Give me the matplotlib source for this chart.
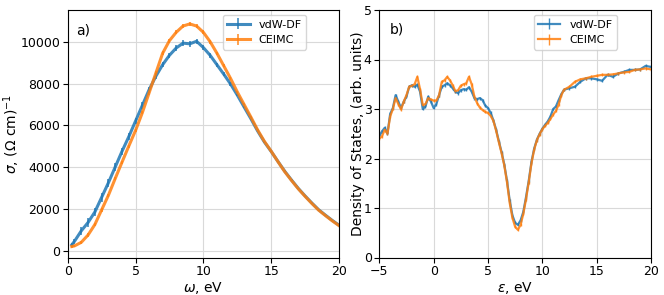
import matplotlib
matplotlib.use("Agg")
import matplotlib.pyplot as plt
import numpy as np

# ---- panel a) optical conductivity ----
omega = [0.3, 0.5, 1.0, 1.5, 2.0, 2.5, 3.0, 3.5, 4.0, 4.5, 5.0, 5.5, 6.0, 6.5, 7.0,
         7.5, 8.0, 8.5, 9.0, 9.5, 10.0, 10.5, 11.0, 11.5, 12.0, 12.5, 13.0, 13.5,
         14.0, 14.5, 15.0, 15.5, 16.0, 16.5, 17.0, 17.5, 18.0, 18.5, 19.0, 19.5, 20.0]
sigma_vdw = [280, 450, 950, 1350, 1850, 2550, 3250, 4000, 4750, 5450, 6200, 6950, 7700,
             8350, 8900, 9350, 9700, 9930, 9900, 10020, 9720, 9350, 8900, 8450, 7980,
             7450, 6880, 6320, 5730, 5200, 4750, 4270, 3800, 3380, 2980, 2620, 2280,
             1960, 1700, 1450, 1220]
sigma_vdw_err = [80, 120, 180, 200, 200, 200, 200, 200, 180, 170, 160, 150, 140, 130, 130,
                 130, 130, 130, 130, 130, 120, 110, 100, 90, 80, 70, 60, 60, 50, 50, 50,
                 40, 40, 40, 30, 30, 30, 30, 30, 30, 30]
sigma_ceimc = [200, 230, 400, 750, 1250, 1950, 2650, 3450, 4230, 5000, 5750, 6600, 7550,
               8500, 9450, 10050, 10450, 10750, 10850, 10750, 10450, 10000, 9450, 8850,
               8250, 7600, 7000, 6400, 5780, 5230, 4760, 4260, 3780, 3360, 2960, 2600,
               2260, 1940, 1680, 1430, 1200]
sigma_ceimc_err = [60, 60, 70, 80, 80, 80, 80, 80, 80, 80, 80, 80, 80, 80, 90, 90, 100,
                   100, 100, 100, 100, 90, 80, 70, 60, 60, 50, 50, 50, 40, 40, 40, 30, 30,
                   30, 30, 30, 30, 30, 30, 30]

# ---- panel b) density of states ----
eps = [-5.0, -4.75, -4.5, -4.25, -4.0, -3.75, -3.5, -3.25, -3.0, -2.75, -2.5, -2.25,
       -2.0, -1.75, -1.5, -1.25, -1.0, -0.75, -0.5, -0.25, 0.0, 0.25, 0.5, 0.75, 1.0,
       1.25, 1.5, 1.75, 2.0, 2.25, 2.5, 2.75, 3.0, 3.25, 3.5, 3.75, 4.0, 4.25, 4.5, 4.75,
       5.0, 5.25, 5.5, 5.75, 6.0, 6.25, 6.5, 6.75, 7.0, 7.25, 7.5, 7.75, 8.0, 8.25, 8.5,
       8.75, 9.0, 9.25, 9.5, 9.75, 10.0, 10.25, 10.5, 10.75, 11.0, 11.25, 11.5, 11.75,
       12.0, 12.5, 13.0, 13.5, 14.0, 14.5, 15.0, 15.5, 16.0, 16.5, 17.0, 17.5, 18.0,
       18.5, 19.0, 19.5, 20.0]
dos_vdw = [2.45, 2.55, 2.62, 2.50, 2.90, 3.02, 3.28, 3.15, 3.02, 3.15, 3.25, 3.45,
           3.48, 3.45, 3.49, 3.35, 3.00, 3.05, 3.25, 3.15, 3.02, 3.10, 3.28, 3.45, 3.48,
           3.52, 3.48, 3.42, 3.35, 3.32, 3.38, 3.40, 3.39, 3.44, 3.35, 3.22, 3.20, 3.22,
           3.18, 3.07, 3.02, 2.92, 2.77, 2.58, 2.35, 2.13, 1.88, 1.55, 1.15, 0.85, 0.70,
           0.66, 0.75, 0.92, 1.22, 1.55, 1.93, 2.20, 2.38, 2.50, 2.60, 2.68, 2.75, 2.85,
           3.00, 3.05, 3.18, 3.30, 3.39, 3.42, 3.45, 3.55, 3.62, 3.62, 3.60, 3.57, 3.69,
           3.65, 3.72, 3.75, 3.79, 3.79, 3.80, 3.87, 3.85]
dos_ceimc = [2.40, 2.45, 2.58, 2.50, 2.85, 3.00, 3.22, 3.10, 2.99, 3.15, 3.28, 3.45,
             3.47, 3.50, 3.65, 3.40, 3.08, 3.10, 3.22, 3.19, 3.17, 3.17, 3.28, 3.55, 3.58,
             3.65, 3.58, 3.48, 3.36, 3.38, 3.47, 3.50, 3.52, 3.65, 3.50, 3.25, 3.12, 3.03,
             2.98, 2.94, 2.92, 2.86, 2.76, 2.56, 2.33, 2.11, 1.86, 1.52, 1.10, 0.80, 0.62,
             0.56, 0.66, 0.88, 1.18, 1.52, 1.90, 2.18, 2.37, 2.49, 2.59, 2.66, 2.72, 2.80,
             2.89, 2.96, 3.09, 3.28, 3.39, 3.45, 3.55, 3.60, 3.62, 3.65, 3.67, 3.69, 3.69,
             3.70, 3.72, 3.74, 3.75, 3.79, 3.80, 3.82, 3.80]
dos_err = 0.03

labels = ["vdW-DF", "CEIMC"]

FS = 10      # axis labels
TFS = 9      # tick labels
LFS = 8      # legend
plt.rcParams['font.family'] = ['DejaVu Sans']
plt.rcParams['font.size'] = FS
plt.rcParams['mathtext.fontset'] = 'dejavusans'

fig = plt.figure(figsize=(6.64, 2.95), dpi=100)
W, H = 664, 295
axA = fig.add_axes([67.7 / W, 1 - 257.5 / H, (339 - 67.7) / W, (257.5 - 10) / H])
axB = fig.add_axes([379.3 / W, 1 - 257.5 / H, (651 - 379.3) / W, (257.5 - 10) / H])

kw = dict(lw=2.2, elinewidth=1.2, alpha=0.85)
axA.errorbar(omega, sigma_vdw, yerr=sigma_vdw_err, color='C0', label=labels[0], **kw)
axA.errorbar(omega, sigma_ceimc, yerr=sigma_ceimc_err, color='C1', label=labels[1], **kw)
axA.set_xlim(0, 20)
axA.set_ylim(-325, 11517)
axA.set_xticks([0, 5, 10, 15, 20])
axA.set_yticks([0, 2000, 4000, 6000, 8000, 10000])
axA.set_xlabel(r'$\omega$, eV', labelpad=1)
axA.set_ylabel(r'$\sigma$, ($\Omega$ cm)$^{-1}$')
axA.yaxis.set_label_coords(-0.168, 0.5)
axA.grid(True, color='#d9d9d9', lw=0.8)
axA.set_axisbelow(True)
axA.legend(loc='upper right', bbox_to_anchor=(0.899, 1.002), fontsize=LFS)
axA.text(0.03, 0.9, 'a)', transform=axA.transAxes, fontsize=FS)

kw2 = dict(lw=1.6, elinewidth=1.0, alpha=0.85)
axB.errorbar(eps, dos_vdw, yerr=dos_err, color='C0', label=labels[0], **kw2)
axB.errorbar(eps, dos_ceimc, yerr=dos_err, color='C1', label=labels[1], **kw2)
axB.set_xlim(-5, 20)
axB.set_ylim(0, 5)
axB.set_xticks([-5, 0, 5, 10, 15, 20])
axB.set_yticks([0, 1, 2, 3, 4, 5])
axB.set_xlabel(r'$\varepsilon$, eV', labelpad=1)
axB.set_ylabel('Density of States, (arb. units)')
axB.yaxis.set_label_coords(-0.053, 0.5)
axB.grid(True, color='#d9d9d9', lw=0.8)
axB.set_axisbelow(True)
axB.legend(loc='upper right', bbox_to_anchor=(0.895, 1.002), fontsize=LFS)
axB.text(0.04, 0.905, 'b)', transform=axB.transAxes, fontsize=FS)

for ax in (axA, axB):
    ax.tick_params(labelsize=TFS, length=3.5, pad=2)

fig.savefig('out.png', dpi=100)
